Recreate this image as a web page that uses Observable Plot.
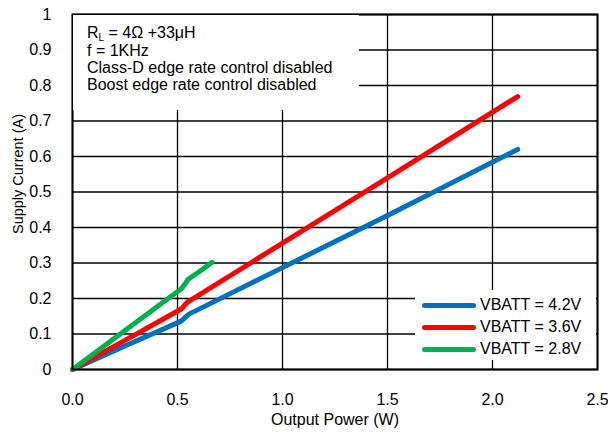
<!DOCTYPE html>
<html>
<head>
<meta charset="utf-8">
<script src="https://cdn.jsdelivr.net/npm/d3@7"></script>
<script src="https://cdn.jsdelivr.net/npm/@observablehq/plot@0.6"></script>
<style>
  html, body { margin: 0; padding: 0; background: #fff; }
  #wrap { position: relative; width: 608px; height: 432px; font-family: "Liberation Sans", Arial, sans-serif; }
  #note { position: absolute; left: 73px; top: 15px; width: 286px; height: 95px; background: #fff; font-size: 16px; color: #000; }
  #note div { position: absolute; left: 14px; white-space: nowrap; line-height: 17px; }
  #note sub { font-size: 10px; vertical-align: -3px; line-height: 0; }
  #legend { position: absolute; left: 415px; top: 290px; width: 181px; height: 70px; background: #fff; font-size: 16px; color: #000; }
  .row { position: absolute; left: 0; height: 22px; }
  .sw { position: absolute; left: 7px; width: 54px; height: 5px; border-radius: 3px; }
  .lab { position: absolute; left: 65px; white-space: nowrap; }
</style>
</head>
<body>
<div id="wrap"></div>
<script>
// ---- data ----
const seriesNames = ["VBATT = 4.2V", "VBATT = 3.6V", "VBATT = 2.8V"];
const seriesColors = ["#0070c0", "#ff0000", "#00b050"];

const power42   = [0, 0.25, 0.52, 0.535, 0.555, 1.0, 1.5, 2.12];
const current42 = [0, 0.066, 0.137, 0.146, 0.156, 0.287, 0.434, 0.62];

const power36   = [0, 0.25, 0.52, 0.535, 0.548, 1.0, 1.5, 2.12];
const current36 = [0, 0.082, 0.171, 0.182, 0.19, 0.356, 0.54, 0.769];

const power28   = [0, 0.25, 0.52, 0.535, 0.55, 0.6, 0.665];
const current28 = [0, 0.11, 0.228, 0.24, 0.254, 0.274, 0.302];

const xTicks = [0, 0.5, 1.0, 1.5, 2.0, 2.5];
const yTicks = [0, 0.1, 0.2, 0.3, 0.4, 0.5, 0.6, 0.7, 0.8, 0.9, 1];

const xTitle = "Output Power (W)";
const yTitle = "Supply Current (A)";
const noteLines = ["f = 1KHz", "Class-D edge rate control disabled", "Boost edge rate control disabled"];

// ---- build table ----
const table = [];
[[power42, current42], [power36, current36], [power28, current28]].forEach(([xs, ys], i) => {
  xs.forEach((x, j) => table.push({series: seriesNames[i], power: x, current: ys[j]}));
});

const chart = Plot.plot({
  width: 608,
  height: 432,
  marginLeft: 72,
  marginRight: 11,
  marginTop: 14,
  marginBottom: 63,
  style: {fontFamily: "'Liberation Sans', Arial, sans-serif", fontSize: "16px", background: "white", color: "#000"},
  x: {domain: [0, 2.5]},
  y: {domain: [0, 1]},
  color: {domain: seriesNames, range: seriesColors},
  marks: [
    Plot.gridX(xTicks, {stroke: "#000", strokeOpacity: 1, strokeWidth: 1.3}),
    Plot.gridY(yTicks, {stroke: "#000", strokeOpacity: 1, strokeWidth: 1.3}),
    Plot.axisX({ticks: xTicks, tickSize: 0, tickPadding: 24, tickFormat: d => d.toFixed(1), label: null, fontSize: 16}),
    Plot.axisY({ticks: yTicks, tickSize: 0, tickPadding: 21, tickFormat: d => (d === 0 || d === 1) ? String(d) : d.toFixed(1), label: null, fontSize: 16}),
    Plot.text([xTitle], {frameAnchor: "bottom", lineAnchor: "middle", dy: 50, fontSize: 16, fill: "#000"}),
    Plot.text([yTitle], {frameAnchor: "left", textAnchor: "middle", lineAnchor: "middle", dx: -54, dy: -18, rotate: -90, fontSize: 14.5, fill: "#000"}),
    Plot.line(table, {x: "power", y: "current", z: "series", stroke: "series", strokeWidth: 5, strokeLinecap: "round", strokeLinejoin: "round"}),
    Plot.frame({stroke: "#000", strokeWidth: 2})
  ]
});

const wrap = document.getElementById("wrap");
wrap.appendChild(chart);

// annotation box
const note = document.createElement("div");
note.id = "note";
const first = document.createElement("div");
first.innerHTML = 'R<sub>L</sub> = 4Ω +33μH';
first.style.top = "9px";
note.appendChild(first);
noteLines.forEach((t, i) => {
  const d = document.createElement("div");
  d.textContent = t;
  d.style.top = (26.5 + i * 17.3) + "px";
  note.appendChild(d);
});
wrap.appendChild(note);

// legend
const legend = document.createElement("div");
legend.id = "legend";
seriesNames.forEach((name, i) => {
  const r = document.createElement("div");
  r.className = "row";
  r.style.top = (4 + i * 22) + "px";
  const sw = document.createElement("div");
  sw.className = "sw";
  sw.style.background = seriesColors[i];
  sw.style.top = "9px";
  const lb = document.createElement("div");
  lb.className = "lab";
  lb.textContent = name;
  lb.style.top = "2px";
  r.appendChild(sw); r.appendChild(lb);
  legend.appendChild(r);
});
wrap.appendChild(legend);
</script>
</body>
</html>
